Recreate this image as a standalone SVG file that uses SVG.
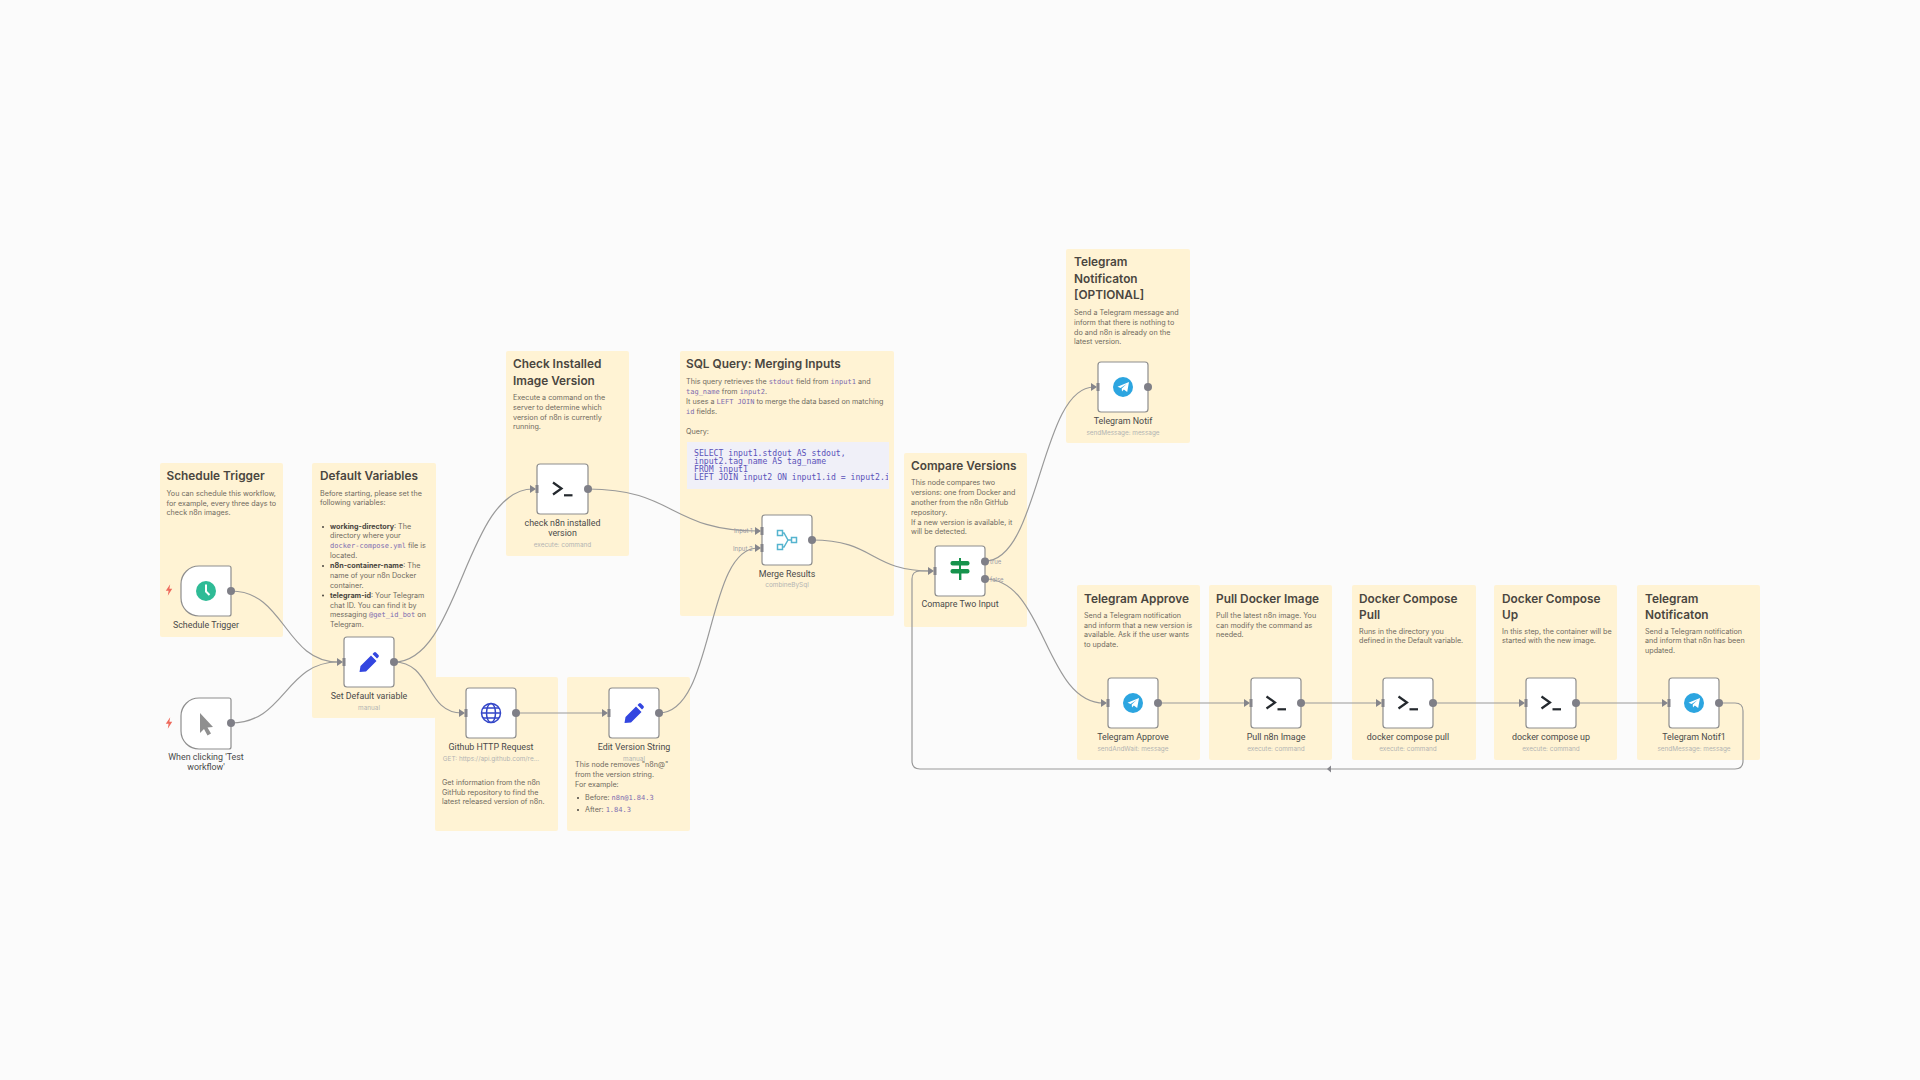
<svg xmlns="http://www.w3.org/2000/svg" width="1920" height="1080" viewBox="0 0 1920 1080">
<style>
text{font-family:Inter,"Liberation Sans",sans-serif}
.s{fill:#fff3d4}
.h{font-size:11.85px;font-weight:600;fill:#4a4640}
.b{font-size:7.2px;fill:#6f6a60}
.bb{font-weight:700;fill:#4a4640}
.c{font-family:"DejaVu Sans Mono","Liberation Mono",monospace;font-size:7px;fill:#7d6bb0}
.q{font-family:"DejaVu Sans Mono","Liberation Mono",monospace;font-size:8.15px;fill:#5b52b8}
.l{font-family:Roboto,"Liberation Sans",sans-serif;font-size:8.9px;fill:#4a4a4a;text-anchor:middle}
.u{font-size:6.4px;fill:#b3b3b3;text-anchor:middle}
.p{font-size:6px;fill:#9a9aa5}
.n{fill:#fff;stroke:#8e8e8e;stroke-width:1.2}
.o{fill:#7f7f87}
.i{fill:#85858b}
.w{fill:none;stroke:#999;stroke-width:1.2}
.ar{fill:#85858b}
.t{fill:none;stroke:#24292e;stroke-width:2.2}
</style>
<defs>
<clipPath id="qc"><rect x="690" y="442" width="198" height="47"/></clipPath>
<g id="term"><path class="t" d="M-9.5-6.5 L-1-.5 L-9.5 5.5"/><path class="t" d="M1.5 6.3H10"/></g>
<g id="tg"><circle r="10" fill="#2ca5e0"/><path fill="#fff" d="M-5.5-.3 6-5 4.2 5 .8 2.6-1 4.4-1.3 1.4 3.6-3-2.4.9Z"/></g>
<path id="pen" fill="#3346e0" d="M-9.500 10l1-6L2 -6.500l5.500 5.500L-3 9.500ZM3.500-8l1.500-1.500a1.500 1.500 0 0 1 2 0l2.500 2.500a1.500 1.500 0 0 1 0 2L8-3.500Z"/>
<path id="bolt" fill="#ee6a5c" d="M1.200-5.800-3.200.8H-.4L-1.200 5.800 3.200-1.200H.4Z"/>
</defs>
<rect width="1920" height="1080" fill="#fbfbfb"/>

<g id="sticky-notes">
<g id="note-schedule"><rect class="s" x="160" y="463" width="123" height="174" rx="2"/>
<text class="h" x="166.500" y="480">Schedule Trigger</text>
<text class="b" x="166.500" y="496">You can schedule this workflow,</text><text class="b" x="166.500" y="505.500">for example, every three days to</text><text class="b" x="166.500" y="515">check n8n images.</text></g>
<g id="note-default"><rect class="s" x="312" y="463" width="124" height="255" rx="2"/>
<text class="h" x="320" y="480">Default Variables</text>
<text class="b" x="320" y="496">Before starting, please set the</text><text class="b" x="320" y="505">following variables:</text>
<circle cx="323" cy="527" r="1" fill="#4a4640"/><circle cx="323" cy="566" r="1" fill="#4a4640"/><circle cx="323" cy="595.500" r="1" fill="#4a4640"/>
<text class="b" x="330" y="529"><tspan class="bb">working-directory</tspan>: The</text><text class="b" x="330" y="538">directory where your</text><text class="b" x="330" y="548"><tspan class="c">docker-compose.yml</tspan> file is</text><text class="b" x="330" y="557.500">located.</text>
<text class="b" x="330" y="568"><tspan class="bb">n8n-container-name</tspan>: The</text><text class="b" x="330" y="578">name of your n8n Docker</text><text class="b" x="330" y="587.500">container.</text>
<text class="b" x="330" y="598"><tspan class="bb">telegram-id</tspan>: Your Telegram</text><text class="b" x="330" y="607.500">chat ID. You can find it by</text><text class="b" x="330" y="617"><tspan>messaging </tspan><tspan class="c">@get_id_bot</tspan> on</text><text class="b" x="330" y="626.500">Telegram.</text></g>
<g id="note-github"><rect class="s" x="435" y="677" width="123" height="154" rx="2"/>
<text class="b" x="442" y="785">Get information from the n8n</text><text class="b" x="442" y="795">GitHub repository to find the</text><text class="b" x="442" y="804">latest released version of n8n.</text></g>
<g id="note-edit"><rect class="s" x="567" y="677" width="123" height="154" rx="2"/>
<text class="b" x="575" y="767">This node removes "n8n@"</text><text class="b" x="575" y="777">from the version string.</text><text class="b" x="575" y="787">For example:</text>
<circle cx="578" cy="798" r="1" fill="#4a4640"/><circle cx="578" cy="810" r="1" fill="#4a4640"/>
<text class="b" x="585" y="800">Before: <tspan class="c">n8n@1.84.3</tspan></text><text class="b" x="585" y="812">After: <tspan class="c">1.84.3</tspan></text></g>
<g id="note-check"><rect class="s" x="506" y="351" width="123" height="205" rx="2"/>
<text class="h" x="513" y="368">Check Installed</text><text class="h" x="513" y="385">Image Version</text>
<text class="b" x="513" y="400">Execute a command on the</text><text class="b" x="513" y="410">server to determine which</text><text class="b" x="513" y="420">version of n8n is currently</text><text class="b" x="513" y="429">running.</text></g>
<g id="note-sql"><rect class="s" x="680" y="351" width="214" height="265" rx="2"/>
<text class="h" x="686" y="368">SQL Query: Merging Inputs</text>
<text class="b" x="686" y="384">This query retrieves the <tspan class="c">stdout</tspan> field from <tspan class="c">input1</tspan> and</text>
<text class="b" x="686" y="394"><tspan class="c">tag_name</tspan> from <tspan class="c">input2</tspan>.</text>
<text class="b" x="686" y="404">It uses a <tspan class="c">LEFT JOIN</tspan> to merge the data based on matching</text>
<text class="b" x="686" y="414"><tspan class="c">id</tspan> fields.</text>
<text class="b" x="686" y="434">Query:</text>
<rect x="687" y="442" width="202" height="47" fill="#f0f0f8"/>
<g clip-path="url(#qc)"><text class="q" x="694" y="456">SELECT input1.stdout AS stdout,</text><text class="q" x="694" y="464">input2.tag_name AS tag_name</text><text class="q" x="694" y="472">FROM input1</text><text class="q" x="694" y="480">LEFT JOIN input2 ON input1.id = input2.id;</text></g></g>
<g id="note-compare"><rect class="s" x="904" y="453" width="123" height="174" rx="2"/>
<text class="h" x="911" y="470">Compare Versions</text>
<text class="b" x="911" y="485">This node compares two</text><text class="b" x="911" y="495">versions: one from Docker and</text><text class="b" x="911" y="505">another from the n8n GitHub</text><text class="b" x="911" y="515">repository.</text><text class="b" x="911" y="524.500">If a new version is available, it</text><text class="b" x="911" y="534">will be detected.</text></g>
<g id="note-optional"><rect class="s" x="1066" y="249" width="124" height="194" rx="2"/>
<text class="h" x="1074" y="266">Telegram</text><text class="h" x="1074" y="283">Notificaton</text><text class="h" x="1074" y="299">[OPTIONAL]</text>
<text class="b" x="1074" y="315">Send a Telegram message and</text><text class="b" x="1074" y="325">inform that there is nothing to</text><text class="b" x="1074" y="334.500">do and n8n is already on the</text><text class="b" x="1074" y="344">latest version.</text></g>
<g id="note-approve"><rect class="s" x="1077" y="585" width="123" height="175" rx="2"/>
<text class="h" x="1084" y="603">Telegram Approve</text>
<text class="b" x="1084" y="618">Send a Telegram notification</text><text class="b" x="1084" y="628">and inform that a new version is</text><text class="b" x="1084" y="637">available. Ask if the user wants</text><text class="b" x="1084" y="647">to update.</text></g>
<g id="note-pull"><rect class="s" x="1209" y="585" width="123" height="175" rx="2"/>
<text class="h" x="1216" y="603">Pull Docker Image</text>
<text class="b" x="1216" y="618">Pull the latest n8n image. You</text><text class="b" x="1216" y="628">can modify the command as</text><text class="b" x="1216" y="637">needed.</text></g>
<g id="note-dcpull"><rect class="s" x="1352" y="585" width="124" height="175" rx="2"/>
<text class="h" x="1359" y="603">Docker Compose</text><text class="h" x="1359" y="619">Pull</text>
<text class="b" x="1359" y="634">Runs in the directory you</text><text class="b" x="1359" y="643">defined in the Default variable.</text></g>
<g id="note-dcup"><rect class="s" x="1494" y="585" width="123" height="175" rx="2"/>
<text class="h" x="1502" y="603">Docker Compose</text><text class="h" x="1502" y="619">Up</text>
<text class="b" x="1502" y="634">In this step, the container will be</text><text class="b" x="1502" y="643">started with the new image.</text></g>
<g id="note-notif"><rect class="s" x="1637" y="585" width="123" height="175" rx="2"/>
<text class="h" x="1645" y="603">Telegram</text><text class="h" x="1645" y="619">Notificaton</text>
<text class="b" x="1645" y="634">Send a Telegram notification</text><text class="b" x="1645" y="643">and inform that n8n has been</text><text class="b" x="1645" y="653">updated.</text></g>
</g>

<g id="connectors">
<path class="w" d="M231 591C285 591 285 662 338 662"/>
<path class="w" d="M231 723C285 723 285 662 338 662"/>
<path class="w" d="M394 662C460 662 465 489 533 489"/>
<path class="w" d="M394 662C432 662 425 713 462 713"/>
<path class="w" d="M516 713H605"/>
<path class="w" d="M659 713C715 713 705 548 758 548"/>
<path class="w" d="M588 489C675 489 670 531 758 531"/>
<path class="w" d="M812 540C875 540 870 571 931 571"/>
<path class="w" d="M985 561C1040 561 1040 387 1094 387"/>
<path class="w" d="M985 579C1045 579 1045 703 1104 703"/>
<path class="w" d="M1158 703H1247M1301 703H1379M1433 703H1522M1576 703H1665"/>
<path class="w" d="M1719 703H1735Q1743 703 1743 711V761Q1743 769 1735 769H920Q912 769 912 761V579Q912 571 920 571H931"/>
<path class="ar" d="M1327 769l4-3.500v7Z"/>
<g class="ar"><path d="M337 658l6 4-6 4Z"/><path d="M459 709l6 4-6 4Z"/><path d="M602 709l6 4-6 4Z"/><path d="M530 485l6 4-6 4Z"/><path d="M755 527l6 4-6 4Z"/><path d="M755 544l6 4-6 4Z"/><path d="M928 567l6 4-6 4Z"/><path d="M1091 383l6 4-6 4Z"/><path d="M1101 699l6 4-6 4Z"/><path d="M1244 699l6 4-6 4Z"/><path d="M1376 699l6 4-6 4Z"/><path d="M1519 699l6 4-6 4Z"/><path d="M1662 699l6 4-6 4Z"/></g>
</g>

<g id="node-schedule"><path class="n" d="M199 566H229a2 2 0 0 1 2 2V614a2 2 0 0 1-2 2H199A18 18 0 0 1 181 598V584A18 18 0 0 1 199 566Z"/>
<circle cx="206" cy="591" r="10" fill="#2fbb96"/><path d="M206 584.500V591.500L209.500 595" fill="none" stroke="#fff" stroke-width="2"/>
<circle class="o" cx="231" cy="591" r="4"/><use href="#bolt" x="169" y="590"/>
<text class="l" x="206" y="628">Schedule Trigger</text></g>
<g id="node-manual"><path class="n" d="M199 698H229a2 2 0 0 1 2 2V747a2 2 0 0 1-2 2H199A18 18 0 0 1 181 731V716A18 18 0 0 1 199 698Z"/>
<path fill="#8f8f8f" d="M200 713 213 727 207.500 727.500 211 733.500 207.500 735.500 204 729 200 733Z"/>
<circle class="o" cx="231" cy="723" r="4"/><use href="#bolt" x="169" y="723"/>
<text class="l" x="206" y="760">When clicking 'Test</text><text class="l" x="206" y="770">workflow'</text></g>
<g id="node-set"><rect class="n" x="344" y="637" width="50" height="50" rx="3"/><use href="#pen" x="369" y="662"/>
<rect class="i" x="342.500" y="658" width="3" height="8"/><circle class="o" cx="394" cy="662" r="4"/>
<text class="l" x="369" y="699">Set Default variable</text><text class="u" x="369" y="710">manual</text></g>
<g id="node-github"><rect class="n" x="466" y="688" width="50" height="50" rx="3"/>
<g fill="none" stroke="#3346c8" stroke-width="1.500"><circle cx="491" cy="713" r="9.500"/><ellipse cx="491" cy="713" rx="4.500" ry="9.500"/><path d="M481.500 713H500.500M483 708H499M483 718H499"/></g>
<rect class="i" x="464.500" y="709" width="3" height="8"/><circle class="o" cx="516" cy="713" r="4"/>
<text class="l" x="491" y="750">Github HTTP Request</text><text class="u" x="491" y="761">GET: https://api.github.com/re...</text></g>
<g id="node-edit"><rect class="n" x="609" y="688" width="50" height="50" rx="3"/><use href="#pen" x="634" y="713"/>
<rect class="i" x="607.500" y="709" width="3" height="8"/><circle class="o" cx="659" cy="713" r="4"/>
<text class="l" x="634" y="750">Edit Version String</text><text class="u" x="634" y="761">manual</text></g>
<g id="node-check"><rect class="n" x="537" y="464" width="51" height="50" rx="3"/><use href="#term" x="562.500" y="489"/>
<rect class="i" x="535.500" y="485" width="3" height="8"/><circle class="o" cx="588" cy="489" r="4"/>
<text class="l" x="562.500" y="526">check n8n installed</text><text class="l" x="562.500" y="536">version</text><text class="u" x="562.500" y="547">execute: command</text></g>
<g id="node-merge"><rect class="n" x="762" y="515" width="50" height="50" rx="3"/>
<g fill="none" stroke="#55b4cf" stroke-width="1.500"><rect x="777.500" y="530.500" width="5" height="5"/><rect x="777.500" y="544.500" width="5" height="5"/><rect x="791.500" y="537.500" width="5" height="5"/><path d="M782.500 533H784L788 540H791.500M782.500 547H784L788 540"/></g>
<rect class="i" x="760.500" y="527" width="3" height="8"/><rect class="i" x="760.500" y="544" width="3" height="8"/><circle class="o" cx="812" cy="540" r="4"/>
<text class="p" x="734" y="533">Input 1</text><text class="p" x="733" y="551">Input 2</text>
<text class="l" x="787" y="577">Merge Results</text><text class="u" x="787" y="587">combineBySql</text></g>
<g id="node-if"><rect class="n" x="935" y="546" width="50" height="50" rx="3"/>
<g fill="#16934c"><rect x="950.500" y="561" width="19" height="4.500" rx="2"/><rect x="950.500" y="569" width="19" height="4.500" rx="2"/><rect x="959" y="558" width="2" height="3.500"/><rect x="959" y="565" width="2" height="4"/><rect x="959" y="573" width="2.400" height="7"/></g>
<rect class="i" x="933.500" y="567" width="3" height="8"/><circle class="o" cx="985" cy="561.500" r="4"/><circle class="o" cx="985" cy="579" r="4"/>
<text class="p" x="990" y="564">true</text><text class="p" x="990" y="581.500">false</text>
<text class="l" x="960" y="607">Comapre Two Input</text></g>
<g id="node-tg-notif"><rect class="n" x="1098" y="362" width="50" height="50" rx="3"/><use href="#tg" x="1123" y="387"/>
<rect class="i" x="1096.500" y="383" width="3" height="8"/><circle class="o" cx="1148" cy="387" r="4"/>
<text class="l" x="1123" y="424">Telegram Notif</text><text class="u" x="1123" y="434.500">sendMessage: message</text></g>
<g id="node-approve"><rect class="n" x="1108" y="678" width="50" height="50" rx="3"/><use href="#tg" x="1133" y="703"/>
<rect class="i" x="1106.500" y="699" width="3" height="8"/><circle class="o" cx="1158" cy="703" r="4"/>
<text class="l" x="1133" y="740">Telegram Approve</text><text class="u" x="1133" y="750.500">sendAndWait: message</text></g>
<g id="node-pull"><rect class="n" x="1251" y="678" width="50" height="50" rx="3"/><use href="#term" x="1276" y="703"/>
<rect class="i" x="1249.500" y="699" width="3" height="8"/><circle class="o" cx="1301" cy="703" r="4"/>
<text class="l" x="1276" y="740">Pull n8n Image</text><text class="u" x="1276" y="750.500">execute: command</text></g>
<g id="node-dcpull"><rect class="n" x="1383" y="678" width="50" height="50" rx="3"/><use href="#term" x="1408" y="703"/>
<rect class="i" x="1381.500" y="699" width="3" height="8"/><circle class="o" cx="1433" cy="703" r="4"/>
<text class="l" x="1408" y="740">docker compose pull</text><text class="u" x="1408" y="750.500">execute: command</text></g>
<g id="node-dcup"><rect class="n" x="1526" y="678" width="50" height="50" rx="3"/><use href="#term" x="1551" y="703"/>
<rect class="i" x="1524.500" y="699" width="3" height="8"/><circle class="o" cx="1576" cy="703" r="4"/>
<text class="l" x="1551" y="740">docker compose up</text><text class="u" x="1551" y="750.500">execute: command</text></g>
<g id="node-notif1"><rect class="n" x="1669" y="678" width="50" height="50" rx="3"/><use href="#tg" x="1694" y="703"/>
<rect class="i" x="1667.500" y="699" width="3" height="8"/><circle class="o" cx="1719" cy="703" r="4"/>
<text class="l" x="1694" y="740">Telegram Notif1</text><text class="u" x="1694" y="750.500">sendMessage: message</text></g>
</svg>
